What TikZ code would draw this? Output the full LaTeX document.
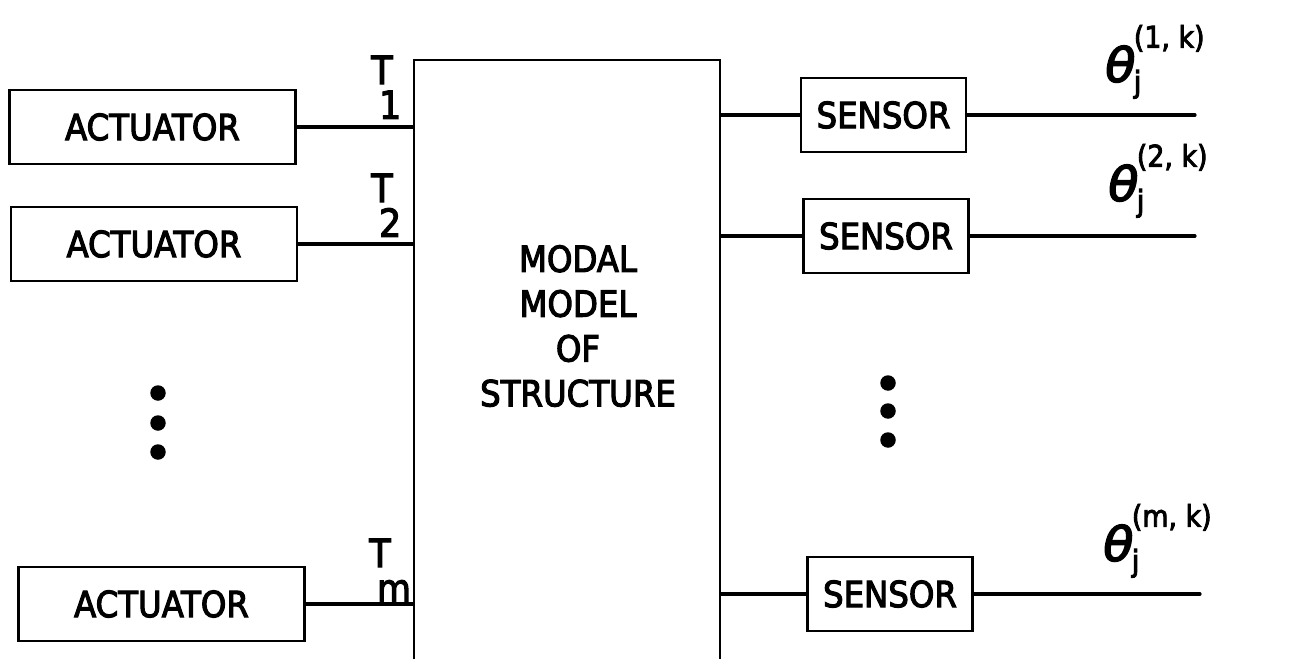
\documentclass[tikz,border=0pt]{standalone}
\usepackage{fontspec}
\setmainfont{DejaVu Sans Condensed}[FakeBold=3]
\usepackage{tikz}
\usetikzlibrary{positioning,calc}
\tikzset{
  blockbox/.style={draw=black,line width=1.5pt,minimum height=1.48cm,inner sep=0pt,fill=white},
  actbox/.style={blockbox,minimum width=5.72cm},
  senbox/.style={blockbox,minimum width=3.3cm},
  wire/.style={line width=1.8pt,line cap=round},
  tlabel/.style={anchor=base west,inner sep=0pt,font=\fontsize{22}{22}\selectfont},
  thlabel/.style={anchor=base west,inner sep=0pt,font=\fontsize{17}{17}\selectfont},
  bigdot/.style={circle,fill=black,inner sep=0pt,minimum size=0.31cm}
}
\newcommand{\thetaout}[1]{{\fontsize{27}{27}\selectfont\itshape\scalebox{1.15}[1]{θ}}\kern-0.05em\rlap{\raisebox{-0.35em}{j}}\raisebox{1.15em}{(#1)}}
\newcommand{\tsub}[1]{T\kern-0.35em\raisebox{-0.9em}{#1}}
\begin{document}
\begin{tikzpicture}[x=0.02cm,y=-0.02cm,font=\fontsize{20.5}{25.5}\selectfont]
  \useasboundingbox (0,0) rectangle (1305,659);
  % structure block, its bottom edge runs off the page
  \node[draw=black,line width=1.6pt,minimum width=6.12cm,minimum height=12.3cm,inner sep=0pt] (modal) at (567,367.5) {};
  \node[align=center] (modaltext) at (578,326) {MODAL\\MODEL\\OF\\STRUCTURE};
  % actuators
  \node[actbox] (act1) at (152.5,127) {ACTUATOR};
  \node[actbox] (act2) at (154,244) {ACTUATOR};
  \node[actbox] (actm) at (161.5,604) {ACTUATOR};
  \draw[wire] (act1.east) -- (act1.east -| modal.west);
  \draw[wire] (act2.east) -- (act2.east -| modal.west);
  \draw[wire] (actm.east) -- (actm.east -| modal.west);
  \node[tlabel] (t1) at (371,84) {\tsub{1}};
  \node[tlabel] (t2) at (371,202) {\tsub{2}};
  \node[tlabel] (tm) at (369,567) {\tsub{m}};
  % sensors
  \node[senbox] (sen1) at (883.5,115) {SENSOR};
  \node[senbox] (sen2) at (886,236) {SENSOR};
  \node[senbox] (senm) at (890,594) {SENSOR};
  \draw[wire] (sen1.west -| modal.east) -- (sen1.west);
  \draw[wire] (sen2.west -| modal.east) -- (sen2.west);
  \draw[wire] (senm.west -| modal.east) -- (senm.west);
  \coordinate (out1) at (1195,115);
  \coordinate (out2) at (1195,236);
  \coordinate (outm) at (1200,594);
  \draw[wire] (sen1.east) -- (out1);
  \draw[wire] (sen2.east) -- (out2);
  \draw[wire] (senm.east) -- (outm);
  \node[thlabel] (th1) at (1105,82) {\thetaout{1, k}};
  \node[thlabel] (th2) at (1108,201) {\thetaout{2, k}};
  \node[thlabel] (thm) at (1103,561) {\thetaout{m, k}};
  % ellipsis dots
  \foreach \n/\yy in {1/393,2/423,3/452} {
    \node[bigdot] (ldot\n) at (158,\yy) {};
  }
  \foreach \n/\yy in {1/383,2/411,3/440} {
    \node[bigdot] (rdot\n) at (888,\yy) {};
  }
\end{tikzpicture}
\end{document}
